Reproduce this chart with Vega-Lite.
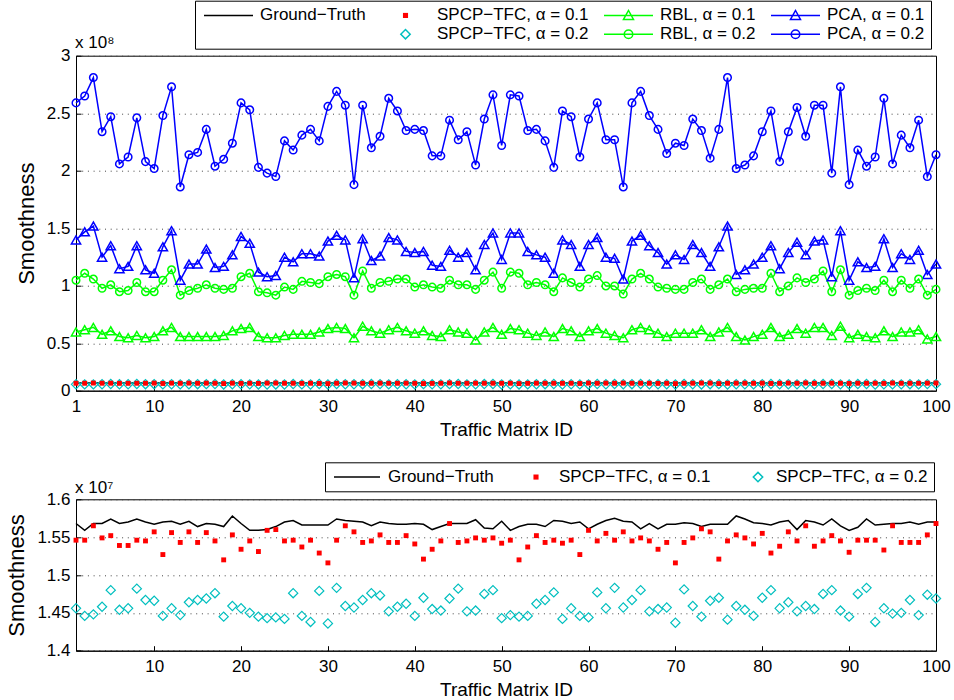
{
"$schema": "https://vega.github.io/schema/vega-lite/v6.json",
"autosize": {"type": "none"},
"padding": {"left": 76, "top": 55.7, "right": 878, "bottom": 644.3},
"config": {
 "font": "Liberation Sans",
 "view": {"stroke": "#000", "strokeWidth": 1},
 "axis": {"labelFont": "Liberation Sans", "labelFontSize": 17, "labelColor": "#000", "titleFont": "Liberation Sans", "titleFontWeight": "normal", "titleColor": "#000", "domainColor": "#000", "tickColor": "#000", "domainWidth": 1, "tickWidth": 1},
 "legend": {"labelFont": "Liberation Sans"},
 "title": {"font": "Liberation Sans", "fontWeight": "normal", "color": "#000"}
},
"datasets": {"d": [
{"i":1,"p2":25.9,"p1":14.0,"r2":10.5,"r1":6.0,"gt":1.568,"s1":1.546,"s2":1.456},
{"i":2,"p2":26.5,"p1":14.7,"r2":11.1,"r1":6.2,"gt":1.559,"s1":1.546,"s2":1.446},
{"i":3,"p2":28.1,"p1":15.2,"r2":10.6,"r1":6.4,"gt":1.568,"s1":1.565,"s2":1.448},
{"i":4,"p2":23.4,"p1":12.5,"r2":9.8,"r1":5.8,"gt":1.568,"s1":1.549,"s2":1.458},
{"i":5,"p2":24.7,"p1":13.5,"r2":10.1,"r1":6.1,"gt":1.574,"s1":1.552,"s2":1.480},
{"i":6,"p2":20.6,"p1":11.5,"r2":9.5,"r1":5.6,"gt":1.568,"s1":1.539,"s2":1.454},
{"i":7,"p2":21.2,"p1":11.7,"r2":9.6,"r1":5.5,"gt":1.570,"s1":1.539,"s2":1.456},
{"i":8,"p2":24.6,"p1":13.5,"r2":10.3,"r1":5.7,"gt":1.574,"s1":1.546,"s2":1.482},
{"i":9,"p2":20.8,"p1":11.4,"r2":9.5,"r1":5.5,"gt":1.570,"s1":1.545,"s2":1.467},
{"i":10,"p2":20.2,"p1":11.1,"r2":9.5,"r1":5.6,"gt":1.567,"s1":1.557,"s2":1.466},
{"i":11,"p2":24.8,"p1":13.4,"r2":10.5,"r1":6.1,"gt":1.570,"s1":1.527,"s2":1.446},
{"i":12,"p2":27.3,"p1":14.8,"r2":11.4,"r1":6.4,"gt":1.571,"s1":1.556,"s2":1.456},
{"i":13,"p2":18.6,"p1":10.5,"r2":9.2,"r1":5.6,"gt":1.567,"s1":1.543,"s2":1.447},
{"i":14,"p2":21.4,"p1":11.9,"r2":9.6,"r1":5.6,"gt":1.571,"s1":1.557,"s2":1.464},
{"i":15,"p2":21.6,"p1":11.9,"r2":9.8,"r1":5.6,"gt":1.564,"s1":1.543,"s2":1.467},
{"i":16,"p2":23.6,"p1":13.2,"r2":10.1,"r1":5.6,"gt":1.568,"s1":1.556,"s2":1.469},
{"i":17,"p2":20.4,"p1":11.6,"r2":9.8,"r1":5.6,"gt":1.567,"s1":1.545,"s2":1.476},
{"i":18,"p2":21.0,"p1":11.7,"r2":9.7,"r1":5.7,"gt":1.564,"s1":1.520,"s2":1.445},
{"i":19,"p2":22.4,"p1":12.7,"r2":9.8,"r1":6.1,"gt":1.578,"s1":1.553,"s2":1.459},
{"i":20,"p2":25.9,"p1":14.3,"r2":10.8,"r1":6.3,"gt":1.568,"s1":1.534,"s2":1.456},
{"i":21,"p2":25.3,"p1":13.7,"r2":11.1,"r1":6.4,"gt":1.559,"s1":1.545,"s2":1.450},
{"i":22,"p2":20.3,"p1":11.2,"r2":9.5,"r1":5.6,"gt":1.559,"s1":1.531,"s2":1.445},
{"i":23,"p2":19.8,"p1":10.8,"r2":9.4,"r1":5.5,"gt":1.560,"s1":1.559,"s2":1.443},
{"i":24,"p2":19.5,"p1":10.9,"r2":9.2,"r1":5.5,"gt":1.564,"s1":1.560,"s2":1.444},
{"i":25,"p2":22.6,"p1":12.5,"r2":9.9,"r1":5.7,"gt":1.570,"s1":1.545,"s2":1.442},
{"i":26,"p2":21.8,"p1":12.1,"r2":9.7,"r1":5.8,"gt":1.572,"s1":1.546,"s2":1.476},
{"i":27,"p2":23.1,"p1":12.8,"r2":10.4,"r1":5.8,"gt":1.566,"s1":1.537,"s2":1.446},
{"i":28,"p2":23.6,"p1":12.8,"r2":10.3,"r1":5.8,"gt":1.566,"s1":1.546,"s2":1.438},
{"i":29,"p2":22.6,"p1":12.6,"r2":10.2,"r1":6.0,"gt":1.566,"s1":1.529,"s2":1.479},
{"i":30,"p2":25.6,"p1":13.9,"r2":10.8,"r1":6.3,"gt":1.566,"s1":1.516,"s2":1.436},
{"i":31,"p2":26.9,"p1":14.4,"r2":11.0,"r1":6.4,"gt":1.574,"s1":1.546,"s2":1.483},
{"i":32,"p2":25.7,"p1":14.0,"r2":10.8,"r1":6.3,"gt":1.572,"s1":1.565,"s2":1.459},
{"i":33,"p2":18.8,"p1":10.7,"r2":9.2,"r1":5.5,"gt":1.571,"s1":1.557,"s2":1.457},
{"i":34,"p2":25.7,"p1":14.1,"r2":11.3,"r1":6.5,"gt":1.570,"s1":1.543,"s2":1.467},
{"i":35,"p2":22.0,"p1":12.2,"r2":9.8,"r1":6.1,"gt":1.565,"s1":1.545,"s2":1.476},
{"i":36,"p2":23.0,"p1":12.6,"r2":10.3,"r1":5.9,"gt":1.570,"s1":1.553,"s2":1.473},
{"i":37,"p2":26.3,"p1":14.2,"r2":10.4,"r1":6.2,"gt":1.568,"s1":1.543,"s2":1.452},
{"i":38,"p2":25.2,"p1":14.0,"r2":10.6,"r1":6.4,"gt":1.567,"s1":1.543,"s2":1.458},
{"i":39,"p2":23.5,"p1":13.0,"r2":10.6,"r1":6.1,"gt":1.567,"s1":1.552,"s2":1.462},
{"i":40,"p2":23.6,"p1":12.9,"r2":9.9,"r1":5.9,"gt":1.568,"s1":1.541,"s2":1.446},
{"i":41,"p2":23.5,"p1":13.0,"r2":10.1,"r1":6.1,"gt":1.567,"s1":1.521,"s2":1.470},
{"i":42,"p2":21.3,"p1":11.8,"r2":9.9,"r1":5.7,"gt":1.560,"s1":1.534,"s2":1.455},
{"i":43,"p2":21.3,"p1":11.7,"r2":9.8,"r1":5.6,"gt":1.564,"s1":1.545,"s2":1.453},
{"i":44,"p2":24.4,"p1":13.1,"r2":10.5,"r1":6.2,"gt":1.568,"s1":1.568,"s2":1.469},
{"i":45,"p2":22.7,"p1":12.5,"r2":10.1,"r1":6.0,"gt":1.568,"s1":1.543,"s2":1.482},
{"i":46,"p2":23.4,"p1":12.9,"r2":10.1,"r1":5.9,"gt":1.568,"s1":1.545,"s2":1.452},
{"i":47,"p2":20.5,"p1":11.4,"r2":9.7,"r1":5.3,"gt":1.573,"s1":1.549,"s2":1.453},
{"i":48,"p2":24.5,"p1":13.6,"r2":10.5,"r1":6.0,"gt":1.562,"s1":1.546,"s2":1.475},
{"i":49,"p2":26.6,"p1":14.6,"r2":11.2,"r1":6.4,"gt":1.561,"s1":1.549,"s2":1.480},
{"i":50,"p2":22.2,"p1":12.3,"r2":9.8,"r1":5.8,"gt":1.571,"s1":1.542,"s2":1.443},
{"i":51,"p2":26.6,"p1":14.6,"r2":11.2,"r1":6.3,"gt":1.559,"s1":1.546,"s2":1.447},
{"i":52,"p2":26.5,"p1":14.6,"r2":11.1,"r1":6.2,"gt":1.564,"s1":1.520,"s2":1.445},
{"i":53,"p2":23.5,"p1":13.0,"r2":10.1,"r1":5.9,"gt":1.567,"s1":1.537,"s2":1.446},
{"i":54,"p2":23.6,"p1":12.7,"r2":10.3,"r1":5.7,"gt":1.567,"s1":1.552,"s2":1.462},
{"i":55,"p2":22.6,"p1":12.5,"r2":10.1,"r1":6.0,"gt":1.564,"s1":1.543,"s2":1.467},
{"i":56,"p2":20.3,"p1":11.1,"r2":9.5,"r1":5.6,"gt":1.572,"s1":1.546,"s2":1.477},
{"i":57,"p2":25.2,"p1":14.0,"r2":10.7,"r1":6.3,"gt":1.571,"s1":1.542,"s2":1.442},
{"i":58,"p2":24.7,"p1":13.6,"r2":10.3,"r1":6.1,"gt":1.568,"s1":1.546,"s2":1.456},
{"i":59,"p2":21.2,"p1":11.7,"r2":9.9,"r1":5.6,"gt":1.570,"s1":1.527,"s2":1.446},
{"i":60,"p2":24.5,"p1":13.6,"r2":10.6,"r1":6.1,"gt":1.561,"s1":1.559,"s2":1.444},
{"i":61,"p2":25.9,"p1":14.2,"r2":10.9,"r1":6.3,"gt":1.567,"s1":1.545,"s2":1.477},
{"i":62,"p2":22.7,"p1":12.5,"r2":10.0,"r1":5.9,"gt":1.572,"s1":1.555,"s2":1.456},
{"i":63,"p2":22.7,"p1":12.4,"r2":10.0,"r1":5.7,"gt":1.575,"s1":1.546,"s2":1.483},
{"i":64,"p2":18.6,"p1":10.6,"r2":9.3,"r1":5.5,"gt":1.571,"s1":1.557,"s2":1.457},
{"i":65,"p2":25.9,"p1":13.9,"r2":10.6,"r1":6.2,"gt":1.570,"s1":1.545,"s2":1.467},
{"i":66,"p2":26.9,"p1":14.4,"r2":11.1,"r1":6.4,"gt":1.561,"s1":1.549,"s2":1.480},
{"i":67,"p2":24.8,"p1":13.5,"r2":10.6,"r1":6.2,"gt":1.568,"s1":1.545,"s2":1.452},
{"i":68,"p2":23.6,"p1":12.9,"r2":9.9,"r1":5.9,"gt":1.561,"s1":1.534,"s2":1.455},
{"i":69,"p2":21.5,"p1":11.9,"r2":9.8,"r1":5.6,"gt":1.567,"s1":1.543,"s2":1.457},
{"i":70,"p2":22.4,"p1":12.7,"r2":9.7,"r1":5.9,"gt":1.567,"s1":1.516,"s2":1.437},
{"i":71,"p2":22.2,"p1":12.3,"r2":9.7,"r1":5.9,"gt":1.569,"s1":1.543,"s2":1.481},
{"i":72,"p2":24.5,"p1":13.6,"r2":10.3,"r1":5.9,"gt":1.568,"s1":1.549,"s2":1.459},
{"i":73,"p2":23.5,"p1":12.9,"r2":10.6,"r1":6.2,"gt":1.564,"s1":1.561,"s2":1.445},
{"i":74,"p2":21.1,"p1":11.7,"r2":9.7,"r1":5.6,"gt":1.567,"s1":1.557,"s2":1.466},
{"i":75,"p2":23.6,"p1":13.4,"r2":10.1,"r1":6.0,"gt":1.567,"s1":1.521,"s2":1.470},
{"i":76,"p2":28.1,"p1":15.2,"r2":10.6,"r1":6.4,"gt":1.567,"s1":1.545,"s2":1.441},
{"i":77,"p2":20.2,"p1":11.0,"r2":9.5,"r1":5.6,"gt":1.578,"s1":1.553,"s2":1.459},
{"i":78,"p2":20.5,"p1":11.4,"r2":9.7,"r1":5.3,"gt":1.574,"s1":1.549,"s2":1.454},
{"i":79,"p2":21.3,"p1":11.9,"r2":9.8,"r1":5.6,"gt":1.569,"s1":1.541,"s2":1.446},
{"i":80,"p2":23.4,"p1":12.5,"r2":9.8,"r1":5.8,"gt":1.568,"s1":1.555,"s2":1.470},
{"i":81,"p2":25.2,"p1":13.5,"r2":11.1,"r1":6.4,"gt":1.566,"s1":1.529,"s2":1.480},
{"i":82,"p2":20.8,"p1":11.5,"r2":9.5,"r1":5.6,"gt":1.570,"s1":1.538,"s2":1.456},
{"i":83,"p2":23.4,"p1":12.9,"r2":10.0,"r1":5.8,"gt":1.572,"s1":1.557,"s2":1.464},
{"i":84,"p2":25.5,"p1":13.8,"r2":10.7,"r1":6.3,"gt":1.560,"s1":1.545,"s2":1.452},
{"i":85,"p2":23.0,"p1":12.7,"r2":10.3,"r1":5.9,"gt":1.572,"s1":1.565,"s2":1.459},
{"i":86,"p2":25.7,"p1":13.9,"r2":10.6,"r1":6.4,"gt":1.570,"s1":1.538,"s2":1.455},
{"i":87,"p2":25.7,"p1":14.0,"r2":11.3,"r1":6.4,"gt":1.566,"s1":1.545,"s2":1.475},
{"i":88,"p2":19.8,"p1":10.8,"r2":9.5,"r1":5.7,"gt":1.574,"s1":1.552,"s2":1.480},
{"i":89,"p2":27.3,"p1":14.8,"r2":11.4,"r1":6.5,"gt":1.565,"s1":1.545,"s2":1.453},
{"i":90,"p2":18.8,"p1":10.5,"r2":9.2,"r1":5.5,"gt":1.559,"s1":1.530,"s2":1.445},
{"i":91,"p2":21.8,"p1":12.1,"r2":9.6,"r1":5.8,"gt":1.563,"s1":1.546,"s2":1.475},
{"i":92,"p2":20.4,"p1":11.6,"r2":9.8,"r1":5.6,"gt":1.574,"s1":1.546,"s2":1.483},
{"i":93,"p2":21.2,"p1":11.7,"r2":9.6,"r1":5.5,"gt":1.566,"s1":1.546,"s2":1.438},
{"i":94,"p2":26.3,"p1":14.1,"r2":10.5,"r1":6.1,"gt":1.567,"s1":1.533,"s2":1.456},
{"i":95,"p2":20.6,"p1":11.6,"r2":9.5,"r1":5.6,"gt":1.568,"s1":1.565,"s2":1.449},
{"i":96,"p2":23.1,"p1":12.8,"r2":10.5,"r1":6.0,"gt":1.568,"s1":1.543,"s2":1.450},
{"i":97,"p2":22.0,"p1":12.3,"r2":9.8,"r1":6.0,"gt":1.570,"s1":1.543,"s2":1.467},
{"i":98,"p2":24.4,"p1":13.1,"r2":10.6,"r1":6.2,"gt":1.567,"s1":1.543,"s2":1.447},
{"i":99,"p2":19.5,"p1":11.0,"r2":9.2,"r1":5.4,"gt":1.570,"s1":1.553,"s2":1.474},
{"i":100,"p2":21.4,"p1":11.9,"r2":9.7,"r1":5.6,"gt":1.570,"s1":1.568,"s2":1.469}
]},
"vconcat": [
{
 "width": 860, "height": 335,
 "data": {"name": "d"},
 "title": {"text": "x 10⁸", "anchor": "start", "frame": "group", "fontSize": 17, "offset": 4, "dx": -1, "dy": 56},
 "transform": [{"fold": ["gt","s1","s2","r1","r2","p1","p2"], "as": ["s","v"]}],
 "encoding": {
  "x": {"field": "i", "type": "quantitative", "scale": {"domain": [1,100], "nice": false, "zero": false},
   "axis": {"values": [1,10,20,30,40,50,60,70,80,90,100], "title": "Traffic Matrix ID", "titleFontSize": 19, "titlePadding": 6, "tickSize": -5, "labelPadding": 13, "labelFlush": false, "labelOverlap": false, "grid": false}},
  "y": {"field": "v", "type": "quantitative", "scale": {"domain": [0.9,30], "nice": false, "zero": false},
   "axis": {"values": [0.9,5,10,15,20,25,30], "labelExpr": "datum.value < 1 ? '0' : format(datum.value / 10, '')", "title": "Smoothness", "titleFontSize": 22, "titlePadding": 8, "tickSize": -5, "labelPadding": 11, "labelOverlap": false, "grid": true, "gridDash": [1,4.7], "gridColor": "#444"}},
  "color": {"field": "s", "type": "nominal",
   "scale": {"domain": ["gt","blank","s1","s2","r1","r2","p1","p2"], "range": ["#000000","rgba(0,0,0,0)","#ff0000","#00bfbf","#00ff00","#00ff00","#0000ff","#0000ff"]},
   "legend": {"orient": "none", "legendX": 119, "legendY": -55, "columns": 4, "title": null,
    "symbolSize": 100, "symbolStrokeWidth": 1.5, "symbolFillColor": "transparent", "labelFontSize": 17, "labelColor": "#000", "labelOffset": 42, "labelLimit": 400,
    "columnPadding": 12, "rowPadding": 1, "padding": 6, "strokeColor": "#000", "fillColor": "#fff",
    "labelExpr": "datum.value === 'gt' ? 'Ground−Truth' : datum.value === 's1' ? 'SPCP−TFC, α = 0.1' : datum.value === 'r1' ? 'RBL, α = 0.1' : datum.value === 'p1' ? 'PCA, α = 0.1' : datum.value === 's2' ? 'SPCP−TFC, α = 0.2' : datum.value === 'r2' ? 'RBL, α = 0.2' : datum.value === 'p2' ? 'PCA, α = 0.2' : ''",
    "encode": {"symbols": {"update": {
     "shape": {"signal": "datum.value === 'gt' ? 'M-1.1,0H8.7' : datum.value === 's1' ? 'M3.55,-0.25H4.05V0.25H3.55Z' : (datum.value === 'r1' || datum.value === 'p1') ? 'M-1.1,0H8.7M2.8,0.8L3.8,-1L4.8,0.8Z' : (datum.value === 'r2' || datum.value === 'p2') ? 'M-1.1,0H8.7M2.95,0A0.85,0.85,0,1,1,4.65,0A0.85,0.85,0,1,1,2.95,0Z' : datum.value === 's2' ? 'M2.86,0L3.8,-0.94L4.74,0L3.8,0.94Z' : 'M0,0'"},
     "opacity": {"value": 1},
     "strokeWidth": {"signal": "datum.value === 's1' ? 2.6 : 1.5"}
    }}}
   }
  }
 },
 "layer": [
  {"transform": [{"filter": {"field": "s", "oneOf": ["gt","r1","r2","p1","p2"]}}],
   "mark": {"type": "line", "strokeWidth": 1.5}},
  {"transform": [{"filter": {"field": "s", "equal": "s2"}}],
   "mark": {"type": "point", "shape": "diamond", "filled": false, "size": 85, "strokeWidth": 1.2, "opacity": 1}},
  {"transform": [{"filter": {"field": "s", "equal": "s1"}}],
   "mark": {"type": "point", "shape": "square", "filled": true, "size": 24, "opacity": 1},
   "encoding": {"color": {"value": "#ff0000"}}},
  {"transform": [{"filter": {"field": "s", "oneOf": ["r1","p1"]}}],
   "mark": {"type": "point", "shape": "triangle-up", "filled": false, "size": 85, "strokeWidth": 1.5, "opacity": 1}},
  {"transform": [{"filter": {"field": "s", "oneOf": ["r2","p2"]}}],
   "mark": {"type": "point", "shape": "circle", "filled": false, "size": 57, "strokeWidth": 1.5, "opacity": 1}}
 ]
},
{
 "width": 860, "height": 151.4,
 "data": {"name": "d"},
 "title": {"text": "x 10⁷", "anchor": "start", "frame": "group", "fontSize": 17, "offset": 4, "dx": -1, "dy": 39},
 "transform": [{"fold": ["gt","s1","s2"], "as": ["s","v"]}],
 "encoding": {
  "x": {"field": "i", "type": "quantitative", "scale": {"domain": [1,100], "nice": false, "zero": false},
   "axis": {"values": [10,20,30,40,50,60,70,80,90,100], "title": "Traffic Matrix ID", "titleFontSize": 19, "titlePadding": 6, "tickSize": -5, "labelPadding": 13, "labelFlush": false, "labelOverlap": false, "grid": false}},
  "y": {"field": "v", "type": "quantitative", "scale": {"domain": [1.4,1.6], "nice": false, "zero": false},
   "axis": {"values": [1.4,1.45,1.5,1.55,1.6], "labelExpr": "format(datum.value, '')", "title": "Smoothness", "titleFontSize": 22, "titlePadding": 8, "tickSize": -5, "labelPadding": 11, "labelOverlap": false, "grid": true, "gridDash": [1,4.7], "gridColor": "#444"}},
  "color": {"field": "s", "type": "nominal",
   "scale": {"domain": ["gt","s1","s2"], "range": ["#000000","#ff0000","#00bfbf"]},
   "legend": {"orient": "none", "legendX": 249, "legendY": -37, "columns": 3, "title": null,
    "symbolSize": 100, "symbolStrokeWidth": 1.5, "symbolFillColor": "transparent", "labelFontSize": 17, "labelColor": "#000", "labelOffset": 40, "labelLimit": 400,
    "columnPadding": 8, "padding": 6, "strokeColor": "#000", "fillColor": "#fff",
    "labelExpr": "datum.value === 'gt' ? 'Ground−Truth' : datum.value === 's1' ? 'SPCP−TFC, α = 0.1' : 'SPCP−TFC, α = 0.2'",
    "encode": {"symbols": {"update": {
     "shape": {"signal": "datum.value === 'gt' ? 'M-1.1,0H8.1' : datum.value === 's1' ? 'M4.85,-0.25H5.35V0.25H4.85Z' : 'M5.16,0L6.1,-0.94L7.04,0L6.1,0.94Z'"},
     "opacity": {"value": 1},
     "strokeWidth": {"signal": "datum.value === 's1' ? 2.6 : 1.5"}
    }}}
   }
  }
 },
 "layer": [
  {"transform": [{"filter": {"field": "s", "equal": "gt"}}],
   "mark": {"type": "line", "strokeWidth": 1.5}},
  {"transform": [{"filter": {"field": "s", "equal": "s2"}}],
   "mark": {"type": "point", "shape": "diamond", "filled": false, "size": 85, "strokeWidth": 1.2, "opacity": 1}},
  {"transform": [{"filter": {"field": "s", "equal": "s1"}}],
   "mark": {"type": "point", "shape": "square", "filled": true, "size": 24, "opacity": 1},
   "encoding": {"color": {"value": "#ff0000"}}}
 ]
}
],
"spacing": 108.6,
"bounds": "flush",
"resolve": {"scale": {"x": "independent", "y": "independent", "color": "independent"}, "axis": {"x": "independent", "y": "independent"}, "legend": {"color": "independent"}}
}
